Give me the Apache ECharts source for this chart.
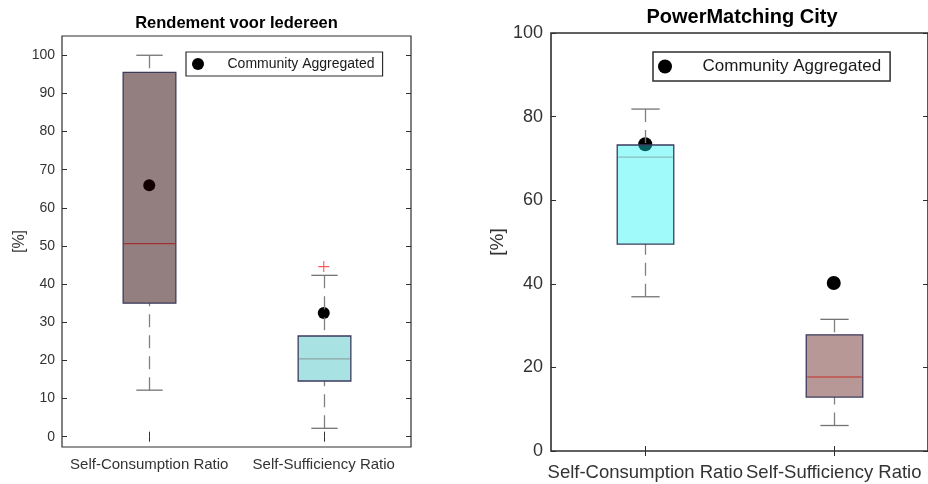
<!DOCTYPE html>
<html>
<head>
<meta charset="utf-8">
<script src="https://cdn.jsdelivr.net/npm/echarts@6/dist/echarts.min.js"></script>
<style>html,body{margin:0;padding:0;background:#fff;}#c{width:928px;height:484px;}</style>
</head>
<body>
<div id="c"></div>
<script>
// ---------- Data ----------
const categories = ['Self-Consumption Ratio', 'Self-Sufficiency Ratio'];

// Left panel: "Rendement voor Iedereen"
const leftWhiskerLow  = [12.2, 2.2];
const leftQ1          = [35.0, 14.6];
const leftMedian      = [50.6, 20.4];
const leftQ3          = [95.5, 26.4];
const leftWhiskerHigh = [100.0, 42.3];
const leftAggregated  = [65.9, 32.4];
const leftOutlierCat  = [1];
const leftOutlierVal  = [44.6];
const leftTicks       = [0, 10, 20, 30, 40, 50, 60, 70, 80, 90, 100];

// Right panel: "PowerMatching City"
const rightWhiskerLow  = [36.9, 6.1];
const rightQ1          = [49.5, 12.9];
const rightMedian      = [70.3, 17.7];
const rightQ3          = [73.2, 27.8];
const rightWhiskerHigh = [81.8, 31.5];
const rightAggregated  = [73.4, 40.2];
const rightTicks       = [0, 20, 40, 60, 80, 100];

const leftTitle = 'Rendement voor Iedereen';
const rightTitle = 'PowerMatching City';
const legendName = 'Community Aggregated';
const yName = '[%]';

// ---------- Styles ----------
const FONT = '"Liberation Sans", Arial, Helvetica, sans-serif';
const AX = '#2e2e2e';
const TXT = '#333333';

function boxRows(lo, q1, med, q3, hi) {
  return categories.map((c, i) => [i, lo[i], q1[i], med[i], q3[i], hi[i]]);
}

function makeBoxRender(fills, medianColors, ratio) {
  return function (params, api) {
    const idx = api.value(0);
    const pLo = api.coord([idx, api.value(1)]);
    const pQ1 = api.coord([idx, api.value(2)]);
    const pMed = api.coord([idx, api.value(3)]);
    const pQ3 = api.coord([idx, api.value(4)]);
    const pHi = api.coord([idx, api.value(5)]);
    const band = api.size([1, 0])[0];
    const bw = band * ratio;
    const cw = bw / 2;
    const cx = Math.round(pMed[0]) + 0.5;
    const i = params.dataIndex;
    const wStyle = { stroke: '#808080', lineWidth: 1.3, lineDash: [13, 8] };
    const cStyle = { stroke: '#747474', lineWidth: 1.3 };
    return {
      type: 'group',
      children: [
        { type: 'line', shape: { x1: cx, y1: pHi[1], x2: cx, y2: pQ3[1] }, style: wStyle },
        { type: 'line', shape: { x1: cx, y1: pLo[1], x2: cx, y2: pQ1[1] }, style: wStyle },
        { type: 'line', shape: { x1: cx - cw / 2, y1: pHi[1], x2: cx + cw / 2, y2: pHi[1] }, style: cStyle },
        { type: 'line', shape: { x1: cx - cw / 2, y1: pLo[1], x2: cx + cw / 2, y2: pLo[1] }, style: cStyle },
        { type: 'rect', shape: { x: cx - bw / 2, y: pQ3[1], width: bw, height: pQ1[1] - pQ3[1] },
          style: { fill: fills[i], stroke: '#3b3b5c', lineWidth: 1.3 } },
        { type: 'line', shape: { x1: cx - bw / 2 + 1, y1: pMed[1], x2: cx + bw / 2 - 1, y2: pMed[1] },
          style: { stroke: medianColors[i], lineWidth: 1.3 } }
      ]
    };
  };
}

const plusPath = 'path://M9,0h2v9h9v2h-9v9h-2v-9h-9v-2h9z';

const chart = echarts.init(document.getElementById('c'), null, { renderer: 'canvas' });

function xAxes(grid, fontSize, margin) {
  return [
    { type: 'category', gridIndex: grid, data: categories, position: 'bottom',
      axisLine: { show: false },
      axisTick: { show: true, inside: true, alignWithLabel: true, length: 5, lineStyle: { color: AX } },
      axisLabel: { color: TXT, fontSize: fontSize, fontFamily: FONT, margin: margin, interval: 0 },
      splitLine: { show: false } },
    { type: 'category', gridIndex: grid, data: categories, position: 'top',
      axisLine: { show: false },
      axisTick: { show: true, inside: true, alignWithLabel: true, length: 5, lineStyle: { color: AX } },
      axisLabel: { show: false }, splitLine: { show: false } }
  ];
}

function yAxes(grid, min, max, ticks, fontSize, margin, nameSize, nameGap) {
  const common = { type: 'value', gridIndex: grid, min: min, max: max, splitLine: { show: false }, axisLine: { show: false } };
  return [
    Object.assign({}, common, {
      position: 'left',
      name: yName, nameLocation: 'middle', nameRotate: 90, nameGap: nameGap,
      nameTextStyle: { color: TXT, fontSize: nameSize, fontFamily: FONT },
      axisTick: { show: true, inside: true, length: 5, lineStyle: { color: AX }, customValues: ticks },
      axisLabel: { color: TXT, fontSize: fontSize, fontFamily: FONT, margin: margin, customValues: ticks }
    }),
    Object.assign({}, common, {
      position: 'right',
      axisTick: { show: true, inside: true, length: 5, lineStyle: { color: AX }, customValues: ticks },
      axisLabel: { show: false, customValues: ticks }
    })
  ];
}

const option = {
  animation: false,
  backgroundColor: '#ffffff',
  textStyle: { fontFamily: FONT },
  grid: [
    { left: 62, top: 36, width: 349, height: 411, show: true, borderColor: AX, borderWidth: 1.2, backgroundColor: 'transparent' },
    { left: 551, top: 33, width: 382, height: 418, show: true, borderColor: AX, borderWidth: 1.6, backgroundColor: 'transparent' }
  ],
  xAxis: [].concat(xAxes(0, 15, 10), xAxes(1, 18.5, 12)),
  yAxis: [].concat(yAxes(0, -2.7, 105.05, leftTicks, 14, 7, 16, 34), yAxes(1, 0, 100, rightTicks, 18, 8, 19, 44)),
  legend: [
    { data: [legendName], left: 186, top: 52, orient: 'horizontal', selectedMode: false,
      padding: [5, 8, 5, 6], itemWidth: 49, itemHeight: 12, itemGap: 0,
      borderColor: AX, borderWidth: 1.2, backgroundColor: '#fff',
      textStyle: { color: '#1a1a1a', fontSize: 14, fontFamily: FONT } },
    { data: [legendName], left: 653, top: 52, orient: 'horizontal', selectedMode: false,
      padding: [6, 9, 6, 5], itemWidth: 65, itemHeight: 14, itemGap: 0,
      borderColor: AX, borderWidth: 1.5, backgroundColor: '#fff',
      textStyle: { color: '#1a1a1a', fontSize: 17, fontFamily: FONT } }
  ],
  graphic: [
    { type: 'text', x: 236.5, y: 23, style: { text: leftTitle, fill: '#000', font: 'bold 16.5px ' + FONT, textAlign: 'center', textVerticalAlign: 'middle' } },
    { type: 'text', x: 742, y: 17, style: { text: rightTitle, fill: '#000', font: 'bold 20px ' + FONT, textAlign: 'center', textVerticalAlign: 'middle' } }
  ],
  series: [
    { type: 'scatter', name: legendName, xAxisIndex: 0, yAxisIndex: 0, z: 1,
      symbol: 'circle', symbolSize: 12, itemStyle: { color: '#000', opacity: 1 },
      data: categories.map((c, i) => [i, leftAggregated[i]]) },
    { type: 'custom', name: 'leftBoxes', xAxisIndex: 0, yAxisIndex: 0, z: 2,
      renderItem: makeBoxRender(['rgba(41,0,1,0.5)', 'rgba(81,197,199,0.5)'], ['#a23030', '#8ea3a3'], 0.302),
      encode: { x: 0, y: [1, 2, 3, 4, 5] },
      data: boxRows(leftWhiskerLow, leftQ1, leftMedian, leftQ3, leftWhiskerHigh) },
    { type: 'scatter', name: 'outliers', xAxisIndex: 0, yAxisIndex: 0, z: 3,
      symbol: plusPath, symbolSize: 11, itemStyle: { color: '#ff3030' },
      data: leftOutlierCat.map((c, i) => [c, leftOutlierVal[i]]) },
    { type: 'scatter', name: legendName, xAxisIndex: 2, yAxisIndex: 2, z: 1,
      symbol: 'circle', symbolSize: 14, itemStyle: { color: '#000', opacity: 1 },
      data: categories.map((c, i) => [i, rightAggregated[i]]) },
    { type: 'custom', name: 'rightBoxes', xAxisIndex: 2, yAxisIndex: 2, z: 2,
      renderItem: makeBoxRender(['rgba(18,242,242,0.4)', 'rgba(113,49,45,0.5)'], ['#8cbcbc', '#c0504d'], 0.30),
      encode: { x: 0, y: [1, 2, 3, 4, 5] },
      data: boxRows(rightWhiskerLow, rightQ1, rightMedian, rightQ3, rightWhiskerHigh) }
  ]
};
chart.setOption(option);
</script>
</body>
</html>
